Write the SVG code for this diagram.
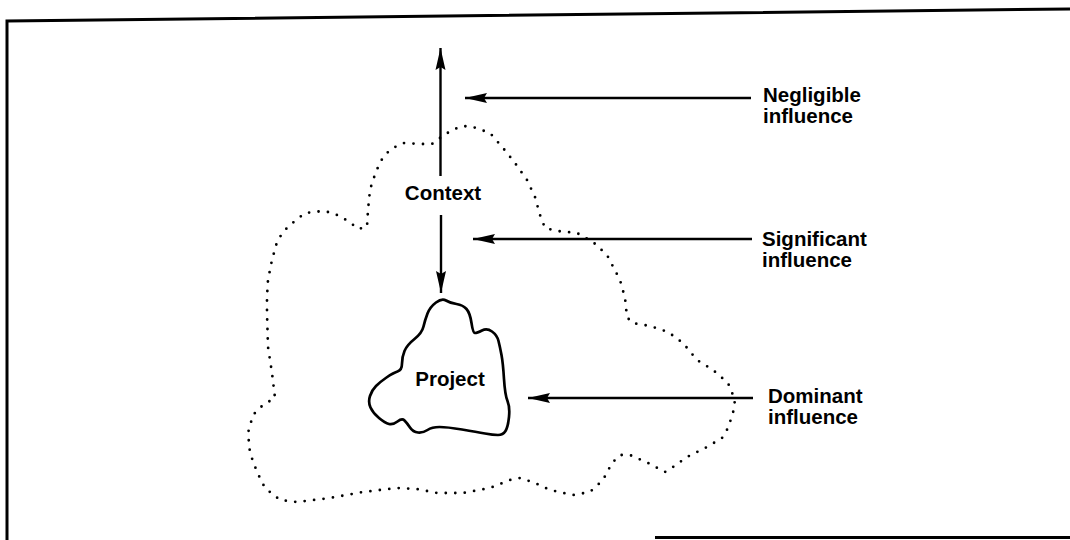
<svg xmlns="http://www.w3.org/2000/svg" width="1070" height="540" viewBox="0 0 1070 540">
  <style>
    .frame { fill: none; stroke: #000; stroke-width: 3; }
    .edge { fill: none; stroke: #000; stroke-width: 2.4; }
    .context-zone { fill: none; stroke: #000; stroke-width: 2.8; stroke-linecap: round; stroke-linejoin: round; stroke-dasharray: 0 9.5; }
    .project-cloud { fill: #fff; stroke: #000; stroke-width: 2.7; stroke-linejoin: round; }
    .label { font-family: "Liberation Sans", Arial, Helvetica, sans-serif; font-size: 20.5px; font-weight: bold; fill: #000; }
  </style>
  <defs>
    <marker id="arrow" viewBox="0 0 22 11" refX="22" refY="5.5" markerWidth="22" markerHeight="11" markerUnits="userSpaceOnUse" orient="auto">
      <path d="M0,0.5 L22,5.5 L0,10.5 L3,5.5 Z" fill="#000"/>
    </marker>
  </defs>

  <rect width="1070" height="540" fill="#fff"/>

  <!-- page frame -->
  <g id="frame">
    <polyline class="frame" points="1070,9 7,21 7,540"/>
    <line class="frame" x1="655" y1="537.5" x2="1070" y2="537.5" stroke-width="2.5"/>
  </g>

  <!-- context boundary (dotted) -->
  <g id="context">
    <polygon class="context-zone" points="440,138 452,130 463,126 473,127 490,133 503,148 515,163 527,180 535,197 540,215 545,228 557,231 577,233 593,242 607,255 620,280 625,298 627,317 632,323 650,326 668,332 683,343 697,360 713,370 728,383 735,400 733,413 728,428 722,438 707,447 687,457 673,467 665,472 648,463 630,455 620,455 612,463 603,480 590,492 573,495 550,490 535,483 520,478 510,480 490,488 463,493 437,493 417,489 397,488 363,492 330,498 297,502 280,500 265,488 257,472 250,453 248,433 253,415 263,405 275,398 272,373 268,347 267,313 267,297 268,280 272,260 277,242 283,232 290,225 305,213 323,211 333,213 343,218 352,224 358,229 367,227 368,210 370,190 373,180 380,162 387,153 393,148 403,143 422,144 432,144"/>
    <text class="label" x="443" y="200" text-anchor="middle">Context</text>
  </g>

  <!-- project cloud -->
  <g id="project">
    <path class="project-cloud" d="M436,302.5 Q442,298 446,300.5 Q450,303 456.5,304 Q463,305 466.5,309 Q470,313 471.5,323 Q473,333 475,333 Q477,333 482,330.5 Q487,328 492,331.5 Q497,335 498.5,341 Q500,347 501.5,355 Q503,363 504,379 Q505,395 507.5,401 Q510,407 509,417 Q508,427 505.5,431 Q503,435 498,435 Q493,435 485,433.5 Q477,432 462,429.5 Q447,427 439.5,427 Q432,427 427.5,430 Q423,433 418,432.5 Q413,432 410,427.5 Q407,423 404.5,420.5 Q402,418 397.5,421.5 Q393,425 389,424 Q385,423 379,418 Q373,413 370.5,407.5 Q368,402 370,396 Q372,390 376,386 Q380,382 386.5,377.5 Q393,373 397.5,371.5 Q402,370 402,363.5 Q402,357 404.5,351 Q407,345 414.5,339 Q422,333 423.5,326.5 Q425,320 427.5,313.5 Q430,307 436,302.5 Z"/>
    <text class="label" x="450" y="386" text-anchor="middle">Project</text>
  </g>

  <!-- influence labels -->
  <g id="negligible">
    <text class="label" x="763" y="102">Negligible</text>
    <text class="label" x="763" y="123">influence</text>
  </g>
  <g id="significant">
    <text class="label" x="762" y="246">Significant</text>
    <text class="label" x="762" y="267">influence</text>
  </g>
  <g id="dominant">
    <text class="label" x="768" y="403">Dominant</text>
    <text class="label" x="768" y="424">influence</text>
  </g>

  <!-- connectors -->
  <g id="connectors">
    <line class="edge" x1="440.5" y1="176" x2="440.5" y2="48" marker-end="url(#arrow)"/>
    <line class="edge" x1="441" y1="215" x2="441" y2="293" marker-end="url(#arrow)"/>
    <line class="edge" x1="751" y1="98" x2="465" y2="98" marker-end="url(#arrow)"/>
    <line class="edge" x1="752" y1="239" x2="473" y2="239" marker-end="url(#arrow)"/>
    <line class="edge" x1="753" y1="398" x2="528" y2="398" stroke-width="3" marker-end="url(#arrow)"/>
  </g>
</svg>
